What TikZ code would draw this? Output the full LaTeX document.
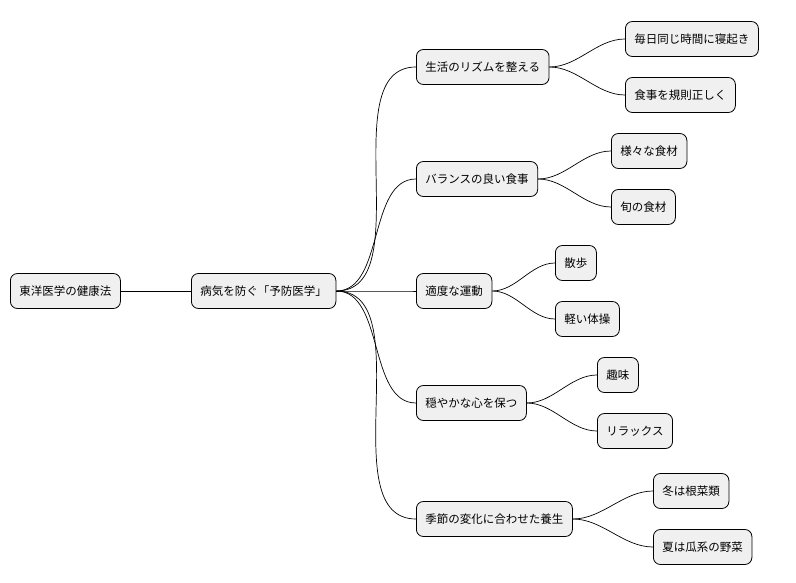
\documentclass[tikz,border=0pt]{standalone}
\usepackage{fontspec}
\setmainfont{Noto Sans CJK JP}
\begin{document}
\begin{tikzpicture}[x=1pt,y=-1pt,
  box/.style={draw=black,line width=0.8pt,fill=black!6,rounded corners=7pt,anchor=west,minimum height=35pt,inner xsep=9pt,font=\fontsize{11.5}{13}\selectfont},
  con/.style={line width=0.7pt,out=0,in=180,looseness=0.9}]
\useasboundingbox (0,0) rectangle (796,583);
\node[box] (r) at (10,291) {東洋医学の健康法};
\node[box] (p) at (191,291) {病気を防ぐ「予防医学」};
\node[box] (a) at (416,67) {生活のリズムを整える};
\node[box] (a1) at (625,39) {毎日同じ時間に寝起き};
\node[box] (a2) at (625,95) {食事を規則正しく};
\node[box] (b) at (416,179) {バランスの良い食事};
\node[box] (b1) at (611,151) {様々な食材};
\node[box] (b2) at (611,207) {旬の食材};
\node[box] (c) at (416,291) {適度な運動};
\node[box] (c1) at (555,263) {散歩};
\node[box] (c2) at (555,319) {軽い体操};
\node[box] (d) at (416,403) {穏やかな心を保つ};
\node[box] (d1) at (597,375) {趣味};
\node[box] (d2) at (597,431) {リラックス};
\node[box] (e) at (416,519) {季節の変化に合わせた養生};
\node[box] (e1) at (653,491) {冬は根菜類};
\node[box] (e2) at (653,547) {夏は瓜系の野菜};
\draw[line width=0.7pt] (r.east) -- (p.west);
\foreach \c in {a,b,c,d,e} \draw[con] (p.east) to (\c.west);
\foreach \c/\k in {a/a1,a/a2,b/b1,b/b2,c/c1,c/c2,d/d1,d/d2,e/e1,e/e2} \draw[con] (\c.east) to (\k.west);
\end{tikzpicture}
\end{document}
